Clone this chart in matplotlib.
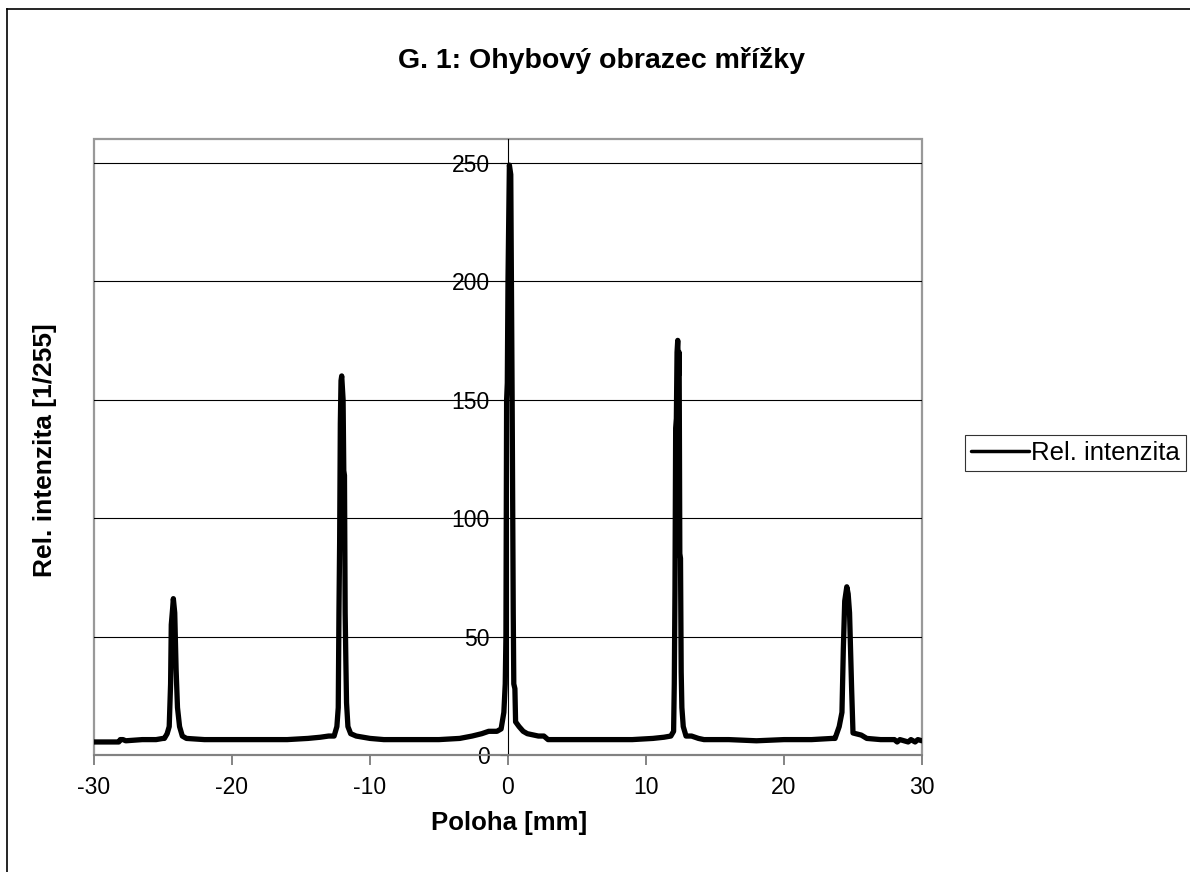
import numpy as np
import matplotlib
matplotlib.use("Agg")
import matplotlib.pyplot as plt
from matplotlib.lines import Line2D
from matplotlib.patches import Rectangle

plt.rcParams['font.family'] = ['Liberation Sans', 'DejaVu Sans']

# --- data (position in mm, relative intensity) ---
base_left_x = [-30.0, -28.8, -28.2, -28.1, -27.9, -27.7, -26.5, -25.5, -25.0]
base_left_y = [5.5, 5.5, 5.5, 6.5, 6.5, 6.0, 6.5, 6.5, 7.0]

peak1_x = [-24.9, -24.7, -24.55, -24.45, -24.4, -24.3, -24.25, -24.15, -24.05, -23.95, -23.8, -23.6, -23.3]
peak1_y = [7, 9, 12, 30, 55, 62, 66, 60, 36, 20, 12, 8, 7]

base_b_x = [-22.0, -20.0, -18.0, -16.0, -14.5, -13.6, -13.0]
base_b_y = [6.5, 6.5, 6.5, 6.5, 7.0, 7.5, 8.0]

peak2_x = [-12.6, -12.4, -12.3, -12.25, -12.2, -12.15, -12.1, -12.05, -11.95, -11.9, -11.85,
           -11.8, -11.75, -11.7, -11.6, -11.4, -11.0]
peak2_y = [8, 12, 20, 60, 90, 140, 158, 160, 150, 120, 118, 60, 40, 22, 12, 9, 8]

base_c_x = [-10.5, -10.0, -9.0, -7.0, -5.0, -3.5]
base_c_y = [7.5, 7.0, 6.5, 6.5, 6.5, 7.0]

peak0_x = [-2.6, -1.9, -1.4, -0.8, -0.5, -0.3, -0.2, -0.15, -0.1, -0.05, 0.0, 0.1, 0.2,
           0.3, 0.38, 0.42, 0.5, 0.55, 0.8, 1.1, 1.4, 2.2, 2.6, 2.9]
peak0_y = [8, 9, 10, 10, 11, 18, 30, 50, 150, 157, 200, 249, 245,
           150, 60, 30, 28, 14, 12, 10, 9, 8, 8, 6.5]

base_d_x = [3.5, 5.0, 7.0, 9.0, 10.5, 11.3]
base_d_y = [6.5, 6.5, 6.5, 6.5, 7.0, 7.5]

peak3_x = [11.8, 12.0, 12.05, 12.1, 12.15, 12.2, 12.25, 12.3, 12.35, 12.4, 12.45, 12.5,
           12.55, 12.6, 12.7, 12.9, 13.3, 13.8, 14.2]
peak3_y = [8, 10, 30, 70, 138, 142, 170, 175, 160, 170, 85, 83, 35, 20, 12, 8, 8, 7, 6.5]

base_e_x = [16.0, 18.0, 20.0, 22.0, 23.5, 23.7]
base_e_y = [6.5, 6.0, 6.5, 6.5, 7.0, 7.0]

peak4_x = [24.0, 24.2, 24.3, 24.4, 24.55, 24.65, 24.75, 24.9, 25.0, 25.6]
peak4_y = [12, 18, 45, 65, 71, 68, 60, 28, 9.3, 8.4]

base_right_x = [26.0, 27.0, 28.0, 28.2, 28.4, 29.0, 29.2, 29.5, 29.7, 30.0]
base_right_y = [7.0, 6.5, 6.5, 5.5, 6.5, 5.5, 6.5, 5.5, 6.5, 6.0]

poloha = np.concatenate([base_left_x, peak1_x, base_b_x, peak2_x, base_c_x,
                         peak0_x, base_d_x, peak3_x, base_e_x, peak4_x, base_right_x])
intenzita = np.concatenate([base_left_y, peak1_y, base_b_y, peak2_y, base_c_y,
                            peak0_y, base_d_y, peak3_y, base_e_y, peak4_y, base_right_y])

x_ticks = [-30, -20, -10, 0, 10, 20, 30]
y_ticks = [0, 50, 100, 150, 200, 250]

fig = plt.figure(figsize=(11.9, 8.72), dpi=100)
ax = fig.add_axes([94 / 1190, 1 - 755 / 872, (922 - 94) / 1190, (755 - 139) / 872])

# y axis sits at x = 0, plot area border drawn in grey
ax.spines['left'].set_position(('data', 0))
ax.spines['left'].set_color('black')
ax.spines['left'].set_linewidth(0.8)
ax.spines['left'].set_zorder(2)
for s in ['top', 'right']:
    ax.spines[s].set_visible(False)
ax.spines['bottom'].set_color('#808080')
ax.spines['bottom'].set_linewidth(1.3)
ax.add_patch(Rectangle((0, 0), 1, 1, transform=ax.transAxes, fill=False,
                       ec='#999999', lw=1.6, zorder=0, clip_on=False))

for yv in y_ticks[1:]:
    ax.axhline(yv, color='black', lw=0.8, zorder=1)

ax.plot(poloha, intenzita, color='black', lw=3.8, solid_joinstyle='round',
        solid_capstyle='round', label='Rel. intenzita', zorder=3)

ax.set_xlim(-30, 30)
ax.set_ylim(0, 260)
ax.set_xticks(x_ticks)
ax.set_yticks(y_ticks)
ax.set_xticklabels([str(v) for v in x_ticks])
ax.set_yticklabels([str(v) for v in y_ticks])

ax.tick_params(axis='x', direction='out', length=7, width=1.2, color='#707070',
               pad=8, labelsize=16.5)
ax.tick_params(axis='y', direction='out', length=6, width=0.8, color='black',
               pad=7, labelsize=16.5)

fig.text(509 / 1190, 1 - 823 / 872, 'Poloha [mm]', fontsize=18.5,
         fontweight='bold', ha='center', va='center')
fig.text(45 / 1190, 1 - 450 / 872, 'Rel. intenzita [1/255]', fontsize=19,
         fontweight='bold', rotation=90, ha='center', va='center')
fig.text(601 / 1190, 1 - 60 / 872, 'G. 1: Ohybový obrazec mřížky', fontsize=20.5,
         fontweight='bold', ha='center', va='center')

leg = ax.legend(loc='center left', bbox_to_anchor=(965 / 1190, 1 - 453 / 872),
                bbox_transform=fig.transFigure, fontsize=18.5, frameon=True,
                fancybox=False, handlelength=2.25, handletextpad=0.05,
                borderpad=0.25, borderaxespad=0)
leg.get_frame().set_edgecolor('black')
leg.get_frame().set_linewidth(0.8)
for ln in leg.get_lines():
    ln.set_linewidth(2.5)

# outer chart border (left and top visible)
fig.add_artist(Line2D([7 / 1190, 7 / 1190], [0, 1 - 9 / 872], color='black', lw=1.2))
fig.add_artist(Line2D([7 / 1190, 1], [1 - 9 / 872, 1 - 9 / 872], color='black', lw=1.2))

fig.savefig('out.png', dpi=100)
